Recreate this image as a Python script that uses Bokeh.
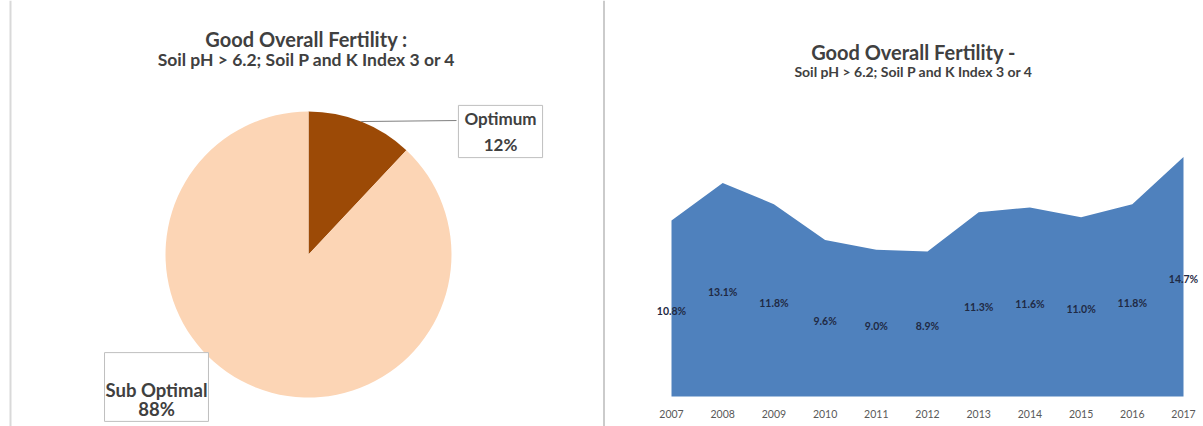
import math
from bokeh.plotting import figure
from bokeh.layouts import row
from bokeh.models import Range1d, Label, Span, ColumnDataSource
from bokeh.core.properties import value
from bokeh.embed import file_html
from bokeh.resources import INLINE

# ---------------- data ----------------
pie_labels = ["Optimum", "Sub Optimal"]
pie_values = [12, 88]
pie_colors = ["#9C4A06", "#FCD5B5"]

years = [2007, 2008, 2009, 2010, 2011, 2012, 2013, 2014, 2015, 2016, 2017]
fertility = [10.8, 13.1, 11.8, 9.6, 9.0, 8.9, 11.3, 11.6, 11.0, 11.8, 14.7]

FONT = "Lato"
TXT = "#404040"

# ---------------- left: pie ----------------
LW, LH = 605, 426
p1 = figure(width=LW, height=LH, output_backend="svg", toolbar_location=None,
            x_range=Range1d(0, LW), y_range=Range1d(0, LH), min_border=0)
p1.axis.visible = False
p1.grid.visible = False
p1.outline_line_color = None

cx, cy, r = 308, 172, 143
total = sum(pie_values)
starts, ends = [], []
acc = 0.0
for v in pie_values:
    a0 = math.pi / 2 - 2 * math.pi * acc / total
    acc += v
    a1 = math.pi / 2 - 2 * math.pi * acc / total
    starts.append(a0)
    ends.append(a1)
src = ColumnDataSource(dict(start=starts, end=ends, color=pie_colors,
                            x=[cx] * len(pie_values), y=[cy] * len(pie_values)))
p1.wedge(x="x", y="y", radius=r, start_angle="start", end_angle="end",
         direction="clock", fill_color="color", line_color=None, source=src)

p1.add_layout(Label(x=306, y=LH - 38, text="Good Overall Fertility :",
                    text_align="center", text_baseline="middle",
                    text_font=FONT, text_font_style="bold",
                    text_font_size="20px", text_color=TXT))
p1.add_layout(Label(x=306, y=LH - 59, text="Soil pH > 6.2; Soil P and K Index 3 or 4",
                    text_align="center", text_baseline="middle",
                    text_font=FONT, text_font_style="bold",
                    text_font_size="17.5px", text_color=TXT))

# leader line from the optimum slice to its label
mid = (starts[0] + ends[0]) / 2
lx0, ly0 = cx + r * math.cos(mid), cy + r * math.sin(mid)
p1.line(x=[lx0, 456], y=[ly0, ly0 + 1], line_color="#7F7F7F", line_width=1)

p1.add_layout(Label(x=500, y=LH - 131,
                    text=f"{pie_labels[0]}\n{pie_values[0]}%",
                    text_align="center", text_baseline="middle",
                    text_font=FONT, text_font_style="bold",
                    text_font_size="17px", text_color=TXT, text_line_height=1.2,
                    border_line_color="#BFBFBF", border_line_width=1,
                    background_fill_color="white", padding=(6, 3)))
p1.add_layout(Label(x=156, y=LH - 386.5,
                    text=f"{pie_labels[1]}\n{pie_values[1]}%",
                    text_align="center", text_baseline="middle",
                    text_font=FONT, text_font_style="bold",
                    text_font_size="18.5px", text_color=TXT, text_line_height=0.9,
                    border_line_color="#BFBFBF", border_line_width=1,
                    background_fill_color="white", padding=(1, 1, 26, 1)))

p1.add_layout(Span(location=10, dimension="height", line_color="#D9D9D9", line_width=2))
p1.add_layout(Span(location=604, dimension="height", line_color="#CBCBCB", line_width=3))

# ---------------- right: area ----------------
RW, RH = 598, 426
pxyr = 51.2
x0 = years[0] - 66 / pxyr
x1 = years[0] + (RW - 66) / pxyr
base = 396      # pixel row of the zero line
pxunit = 16.3
p2 = figure(width=RW, height=RH, output_backend="svg", toolbar_location=None,
            x_range=Range1d(x0, x1),
            y_range=Range1d(-(RH - base) / pxunit, base / pxunit),
            min_border=0)
p2.axis.visible = False
p2.grid.visible = False
p2.outline_line_color = None

p2.varea(x=years, y1=[0] * len(years), y2=fertility, fill_color="#4F81BD")

lab_src = ColumnDataSource(dict(x=years, y=[v / 2 - 0.15 for v in fertility],
                                t=[f"{v:.1f}%" for v in fertility]))
p2.text(x="x", y="y", text="t", source=lab_src, text_align="center",
        text_baseline="middle", text_font=value(FONT), text_font_style="bold",
        text_font_size="10.5px", text_color="#1F2A44")

# category (year) labels under the baseline
yr_src = ColumnDataSource(dict(x=years, y=[-(413 - base) / pxunit] * len(years),
                               t=[str(y) for y in years]))
p2.text(x="x", y="y", text="t", source=yr_src, text_align="center",
        text_baseline="middle", text_font=value(FONT),
        text_font_size="10.5px", text_color="#595959")

tx = years[0] + (913 - 605 - 66) / pxyr
p2.add_layout(Label(x=tx, y=(base - 51) / pxunit, text="Good Overall Fertility -",
                    text_align="center", text_baseline="middle",
                    text_font=FONT, text_font_style="bold",
                    text_font_size="20px", text_color=TXT))
p2.add_layout(Label(x=tx, y=(base - 71) / pxunit,
                    text="Soil pH > 6.2; Soil P and K Index 3 or 4",
                    text_align="center", text_baseline="middle",
                    text_font=FONT, text_font_style="bold",
                    text_font_size="14px", text_color=TXT))

layout = row(p1, p2, spacing=0)
open("out.html", "w").write(file_html(layout, INLINE))
